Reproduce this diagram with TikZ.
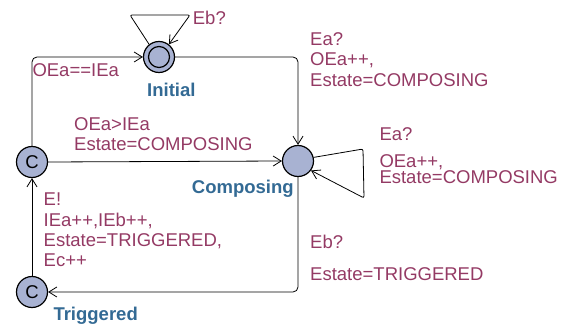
\documentclass[tikz,border=0pt]{standalone}
\usepackage{fontspec}
\setmainfont{Liberation Sans}
\usetikzlibrary{arrows.meta}
\definecolor{locfill}{HTML}{A8B2D2}
\definecolor{locname}{HTML}{336A94}
\definecolor{lbltext}{HTML}{943A64}
\tikzset{
  loc/.style={circle, draw, line width=1.2pt, fill=locfill, minimum size=31pt, inner sep=0pt},
  committed/.style={loc, font=\fontsize{18.5}{19}\selectfont},
  edge/.style={draw, line width=0.8pt, -{Straight Barb[length=8pt,width=10pt]}, rounded corners=5pt},
  lbl/.style={text=lbltext, font=\fontsize{18.5}{20.4}\selectfont, align=left, inner sep=0pt, anchor=north west},
  tightlbl/.style={lbl, font=\fontsize{18.5}{16.8}\selectfont},
  locname/.style={text=locname, font=\bfseries\fontsize{18.5}{19}\selectfont, inner sep=0pt, anchor=base west},
}
\begin{document}
\begin{tikzpicture}[x=1pt,y=-1pt]
\useasboundingbox (0,0) rectangle (571,331);

% locations
\node[loc] (init) at (159,57) {};
\node[circle, draw, line width=1.2pt, minimum size=21pt, inner sep=0pt] (initin) at (init) {};
\node[loc] (comp) at (298,161) {};
\node[committed] (cin) at (32,162) {C};
\node[committed] (trig) at (32,292) {C};

% location names
\node[locname] (ninit) at (147,96.7) {Initial};
\node[locname] (ncomp) at (191.7,193.3) {Composing};
\node[locname] (ntrig) at (53.3,320.7) {Triggered};

% loop corners
\coordinate (il1) at (130,15);
\coordinate (il2) at (190,15);
\coordinate (cl1) at (363,149);
\coordinate (cl2) at (364,198);

% transitions
\draw[edge] (cin.north) |- (init.west);
\draw[edge] (init.east) -| (comp.north);
\draw[edge] (cin.east) -- (comp.west);
\draw[edge] (comp.south) |- (trig.east);
\draw[edge] (trig.north) -- (cin.south);
\draw[edge, rounded corners=2pt] (init.128) -- (il1) -- (il2) -- (init.52);
\draw[edge, rounded corners=2pt] (comp.13) -- (cl1) -- (cl2) -- (comp.-36);

% transition labels
\node[lbl] (lb1) at (192.7,10.7) {Eb?};
\node[lbl] (lb2) at (310,32.3) {Ea?\\OEa++,\\Estate=COMPOSING};
\node[lbl] (lb3) at (32.3,63.3) {OEa==IEa};
\node[lbl] (lb4) at (74,117.3) {OEa>IEa\\Estate=COMPOSING};
\node[lbl] (lb5) at (379.3,127.3) {Ea?};
\node[tightlbl] (lb6) at (379.3,154) {OEa++,\\Estate=COMPOSING};
\node[lbl] (lb7) at (43.5,192.8) {E!\\IEa++,IEb++,\\Estate=TRIGGERED,\\Ec++};
\node[lbl] (lb8) at (310,235) {Eb?};
\node[lbl] (lb9) at (310,267.3) {Estate=TRIGGERED};
\end{tikzpicture}
\end{document}
